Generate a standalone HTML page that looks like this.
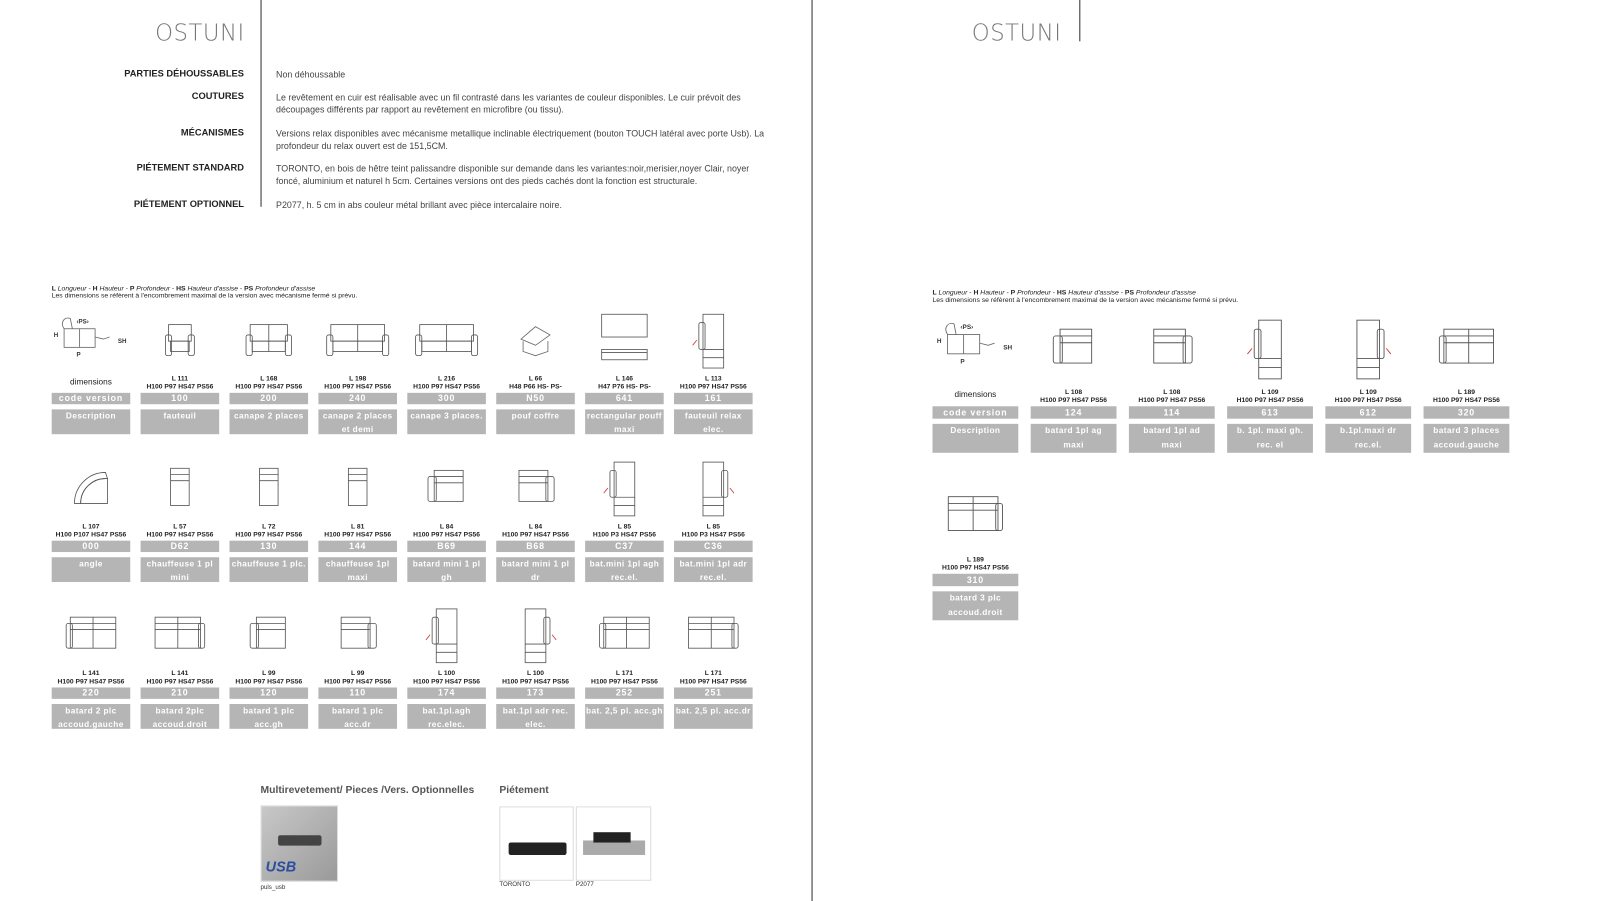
<!DOCTYPE html>
<html><head><meta charset="utf-8"><style>
*{margin:0;padding:0;box-sizing:border-box}
html,body{width:1621px;height:901px;overflow:hidden;background:#fff}
#w{position:absolute;left:0;top:0;width:1568px;height:872px;transform:scale(1.0338);transform-origin:0 0;font-family:"Liberation Sans",sans-serif;color:#333}
.a{position:absolute}
.title{font-size:22px;color:#777;letter-spacing:0.5px;font-family:"DejaVu Sans","Liberation Sans",sans-serif;font-weight:200}
.lab{position:absolute;font-size:9px;font-weight:bold;color:#222;white-space:nowrap;text-align:right;width:236px;left:0}
.txt{position:absolute;left:267px;font-size:8.6px;color:#444;line-height:12px;width:480px}
.vl{position:absolute;width:1px;background:#333}
.c{position:absolute;width:76px;text-align:center}
.c svg{position:absolute;left:0;top:0}
.L{position:absolute;left:-10px;right:-10px;font-size:6.5px;font-weight:bold;color:#222;white-space:nowrap}
.b{position:absolute;left:0;right:0;background:#b5b5b5;color:#fff;font-weight:bold;font-size:8.5px;letter-spacing:0.8px;overflow:hidden;white-space:nowrap}
.db{font-size:8px;letter-spacing:0.4px}
.c .l1{top:63px}.c .l2{top:71px}
.c .cb{top:80px;height:11px;line-height:11px}
.c .db{top:96px;height:24px;line-height:13px}
.r{width:83px}
.r .l1{top:71px}.r .l2{top:79px}
.r .cb{top:88px;height:12px;line-height:12px}
.r .db{top:105px;height:28px;line-height:14px}
.leg{position:absolute;font-size:6.6px;color:#222;line-height:6.8px;white-space:nowrap}
</style></head><body><div id="w">
<svg width="0" height="0" style="position:absolute"><defs>
<symbol id="arm" viewBox="0 0 76 58"><g fill="none" stroke="#555" stroke-width="0.8"><rect x="27" y="14" width="22" height="16"/><rect x="24" y="24" width="6" height="20" rx="2"/><rect x="46" y="24" width="6" height="20" rx="2"/><rect x="29" y="30" width="18" height="10"/></g></symbol>
<symbol id="s2" viewBox="0 0 76 58"><g fill="none" stroke="#555" stroke-width="0.8"><rect x="20" y="14" width="36" height="16"/><line x1="38" y1="14" x2="38" y2="40"/><rect x="16" y="24" width="6" height="20" rx="2"/><rect x="54" y="24" width="6" height="20" rx="2"/><rect x="22" y="30" width="32" height="10"/></g></symbol>
<symbol id="s3" viewBox="0 0 76 58"><g fill="none" stroke="#555" stroke-width="0.8"><rect x="12" y="14" width="52" height="16"/><line x1="38" y1="14" x2="38" y2="40"/><rect x="8" y="24" width="6" height="20" rx="2"/><rect x="62" y="24" width="6" height="20" rx="2"/><rect x="14" y="30" width="48" height="10"/></g></symbol>
<symbol id="ch" viewBox="0 0 76 58"><g fill="none" stroke="#555" stroke-width="0.8"><rect x="29" y="10" width="18" height="36"/><line x1="29" y1="16" x2="47" y2="16"/><line x1="29" y1="22" x2="47" y2="22"/></g></symbol>
<symbol id="bat1" viewBox="0 0 76 58"><g fill="none" stroke="#555" stroke-width="0.8"><rect x="26" y="12" width="28" height="30"/><line x1="26" y1="18" x2="54" y2="18"/><line x1="26" y1="24" x2="54" y2="24"/><rect x="20" y="18" width="8" height="24" rx="2"/></g></symbol>
<symbol id="bat2" viewBox="0 0 76 58"><g fill="none" stroke="#555" stroke-width="0.8"><rect x="18" y="12" width="44" height="30"/><line x1="40" y1="12" x2="40" y2="42"/><line x1="18" y1="18" x2="62" y2="18"/><line x1="18" y1="24" x2="62" y2="24"/><rect x="14" y="18" width="6" height="24" rx="2"/></g></symbol>
<symbol id="rel" viewBox="0 0 76 58"><g fill="none" stroke="#555" stroke-width="0.8"><rect x="28" y="4" width="20" height="52"/><rect x="24" y="12" width="6" height="26" rx="2"/><line x1="28" y1="38" x2="48" y2="38"/><line x1="28" y1="46" x2="48" y2="46"/></g><path d="M18 34l4-5" stroke="#c33" stroke-width="0.8"/></symbol>
</defs></svg>

<div class="vl" style="left:785px;top:0;height:872px"></div>
<div class="vl" style="left:252px;top:0;height:200px"></div>
<div class="vl" style="left:1044px;top:0;height:40px"></div>
<div class="a title" style="left:150px;top:20px">OSTUNI</div>
<div class="a title" style="left:940px;top:20px">OSTUNI</div>

<div class="lab" style="top:66px">PARTIES DÉHOUSSABLES</div>
<div class="lab" style="top:88px">COUTURES</div>
<div class="lab" style="top:123px">MÉCANISMES</div>
<div class="lab" style="top:157px">PIÉTEMENT STANDARD</div>
<div class="lab" style="top:192px">PIÉTEMENT OPTIONNEL</div>
<div class="txt" style="top:66px">Non déhoussable</div>
<div class="txt" style="top:88px">Le revêtement en cuir est réalisable avec un fil contrasté dans les variantes de couleur disponibles. Le cuir prévoit des découpages différents par rapport au revêtement en microfibre (ou tissu).</div>
<div class="txt" style="top:123px">Versions relax disponibles avec mécanisme metallique inclinable électriquement (bouton TOUCH latéral avec porte Usb). La profondeur du relax ouvert est de 151,5CM.</div>
<div class="txt" style="top:157px">TORONTO, en bois de hêtre teint palissandre disponible sur demande dans les variantes:noir,merisier,noyer Clair, noyer foncé, aluminium et naturel h 5cm. Certaines versions ont des pieds cachés dont la fonction est structurale.</div>
<div class="txt" style="top:192px">P2077, h. 5 cm in abs couleur métal brillant avec pièce intercalaire noire.</div>

<div class="leg" style="left:50px;top:277px"><b>L</b> <i>Longueur</i> - <b>H</b> <i>Hauteur</i> - <b>P</b> <i>Profondeur</i> - <b>HS</b> <i>Hauteur d'assise</i> - <b>PS</b> <i>Profondeur d'assise</i><br>Les dimensions se réfèrent à l'encombrement maximal de la version avec mécanisme fermé si prévu.</div>
<div class="leg" style="left:902px;top:281px"><b>L</b> <i>Longueur</i> - <b>H</b> <i>Hauteur</i> - <b>P</b> <i>Profondeur</i> - <b>HS</b> <i>Hauteur d'assise</i> - <b>PS</b> <i>Profondeur d'assise</i><br>Les dimensions se réfèrent à l'encombrement maximal de la version avec mécanisme fermé si prévu.</div>

<!-- left row 1 -->
<div class="c" style="left:50px;top:300px"><svg width="76" height="58" viewBox="0 0 76 58"><g fill="none" stroke="#666" stroke-width="0.8"><rect x="12" y="18" width="30" height="18"/><line x1="27" y1="18" x2="27" y2="36"/><path d="M12 18c-4-6 0-12 6-10l2 10"/><path d="M42 26l8 2 6-2"/></g><text x="24" y="13" font-size="6" font-weight="bold" fill="#333" font-family="Liberation Sans">‹PS›</text><text x="2" y="26" font-size="6" font-weight="bold" fill="#333" font-family="Liberation Sans">H</text><text x="64" y="32" font-size="6" font-weight="bold" fill="#333" font-family="Liberation Sans">SH</text><text x="24" y="45" font-size="6" font-weight="bold" fill="#333" font-family="Liberation Sans">P</text></svg><div class="L" style="top:65px;font-size:8px;font-weight:normal">dimensions</div><div class="b cb">code version</div><div class="b db">Description</div></div>
<div class="c" style="left:136px;top:300px"><svg width="76" height="58"><use href="#arm"/></svg><div class="L l1">L 111</div><div class="L l2">H100 P97 HS47 PS56</div><div class="b cb">100</div><div class="b db">fauteuil</div></div>
<div class="c" style="left:222px;top:300px"><svg width="76" height="58"><use href="#s2"/></svg><div class="L l1">L 168</div><div class="L l2">H100 P97 HS47 PS56</div><div class="b cb">200</div><div class="b db">canape 2 places</div></div>
<div class="c" style="left:308px;top:300px"><svg width="76" height="58"><use href="#s3"/></svg><div class="L l1">L 198</div><div class="L l2">H100 P97 HS47 PS56</div><div class="b cb">240</div><div class="b db">canape 2 places<br>et demi</div></div>
<div class="c" style="left:394px;top:300px"><svg width="76" height="58"><use href="#s3"/></svg><div class="L l1">L 216</div><div class="L l2">H100 P97 HS47 PS56</div><div class="b cb">300</div><div class="b db">canape 3 places.</div></div>
<div class="c" style="left:480px;top:300px"><svg width="76" height="58"><g fill="none" stroke="#666" stroke-width="0.8"><path d="M24 28l14-12 14 8-14 10z"/><path d="M26 30v10l12 4 12-4V30"/></g></svg><div class="L l1">L 66</div><div class="L l2">H48 P66 HS- PS-</div><div class="b cb">N50</div><div class="b db">pouf coffre</div></div>
<div class="c" style="left:566px;top:300px"><svg width="76" height="58"><g fill="none" stroke="#555" stroke-width="0.8"><rect x="16" y="4" width="44" height="22"/><rect x="16" y="38" width="44" height="10"/><line x1="16" y1="41" x2="60" y2="41"/></g></svg><div class="L l1">L 146</div><div class="L l2">H47 P76 HS- PS-</div><div class="b cb">641</div><div class="b db">rectangular pouff<br>maxi</div></div>
<div class="c" style="left:652px;top:300px"><svg width="76" height="58"><use href="#rel"/></svg><div class="L l1">L 113</div><div class="L l2">H100 P97 HS47 PS56</div><div class="b cb">161</div><div class="b db">fauteuil relax<br>elec.</div></div>

<!-- left row 2 -->
<div class="c" style="left:50px;top:443px"><svg width="76" height="58"><g fill="none" stroke="#555" stroke-width="0.8"><path d="M22 44A30 30 0 0 1 52 14l2 6A24 24 0 0 0 28 44z"/><path d="M28 44A24 24 0 0 1 54 20v24z"/></g></svg><div class="L l1">L 107</div><div class="L l2">H100 P107 HS47 PS56</div><div class="b cb">000</div><div class="b db">angle</div></div>
<div class="c" style="left:136px;top:443px"><svg width="76" height="58"><use href="#ch"/></svg><div class="L l1">L 57</div><div class="L l2">H100 P97 HS47 PS56</div><div class="b cb">D62</div><div class="b db">chauffeuse 1 pl<br>mini</div></div>
<div class="c" style="left:222px;top:443px"><svg width="76" height="58"><use href="#ch"/></svg><div class="L l1">L 72</div><div class="L l2">H100 P97 HS47 PS56</div><div class="b cb">130</div><div class="b db">chauffeuse 1 plc.</div></div>
<div class="c" style="left:308px;top:443px"><svg width="76" height="58"><use href="#ch"/></svg><div class="L l1">L 81</div><div class="L l2">H100 P97 HS47 PS56</div><div class="b cb">144</div><div class="b db">chauffeuse 1pl<br>maxi</div></div>
<div class="c" style="left:394px;top:443px"><svg width="76" height="58"><use href="#bat1"/></svg><div class="L l1">L 84</div><div class="L l2">H100 P97 HS47 PS56</div><div class="b cb">B69</div><div class="b db">batard mini 1 pl<br>gh</div></div>
<div class="c" style="left:480px;top:443px"><svg width="76" height="58"><use href="#bat1" transform="translate(76 0) scale(-1 1)"/></svg><div class="L l1">L 84</div><div class="L l2">H100 P97 HS47 PS56</div><div class="b cb">B68</div><div class="b db">batard mini 1 pl<br>dr</div></div>
<div class="c" style="left:566px;top:443px"><svg width="76" height="58"><use href="#rel"/></svg><div class="L l1">L 85</div><div class="L l2">H100 P3 HS47 PS56</div><div class="b cb">C37</div><div class="b db">bat.mini 1pl agh<br>rec.el.</div></div>
<div class="c" style="left:652px;top:443px"><svg width="76" height="58"><use href="#rel" transform="translate(76 0) scale(-1 1)"/></svg><div class="L l1">L 85</div><div class="L l2">H100 P3 HS47 PS56</div><div class="b cb">C36</div><div class="b db">bat.mini 1pl adr<br>rec.el.</div></div>

<!-- left row 3 -->
<div class="c" style="left:50px;top:585px"><svg width="76" height="58"><use href="#bat2"/></svg><div class="L l1">L 141</div><div class="L l2">H100 P97 HS47 PS56</div><div class="b cb">220</div><div class="b db">batard 2 plc<br>accoud.gauche</div></div>
<div class="c" style="left:136px;top:585px"><svg width="76" height="58"><use href="#bat2" transform="translate(76 0) scale(-1 1)"/></svg><div class="L l1">L 141</div><div class="L l2">H100 P97 HS47 PS56</div><div class="b cb">210</div><div class="b db">batard 2plc<br>accoud.droit</div></div>
<div class="c" style="left:222px;top:585px"><svg width="76" height="58"><use href="#bat1"/></svg><div class="L l1">L 99</div><div class="L l2">H100 P97 HS47 PS56</div><div class="b cb">120</div><div class="b db">batard 1 plc<br>acc.gh</div></div>
<div class="c" style="left:308px;top:585px"><svg width="76" height="58"><use href="#bat1" transform="translate(76 0) scale(-1 1)"/></svg><div class="L l1">L 99</div><div class="L l2">H100 P97 HS47 PS56</div><div class="b cb">110</div><div class="b db">batard 1 plc<br>acc.dr</div></div>
<div class="c" style="left:394px;top:585px"><svg width="76" height="58"><use href="#rel"/></svg><div class="L l1">L 100</div><div class="L l2">H100 P97 HS47 PS56</div><div class="b cb">174</div><div class="b db">bat.1pl.agh<br>rec.elec.</div></div>
<div class="c" style="left:480px;top:585px"><svg width="76" height="58"><use href="#rel" transform="translate(76 0) scale(-1 1)"/></svg><div class="L l1">L 100</div><div class="L l2">H100 P97 HS47 PS56</div><div class="b cb">173</div><div class="b db">bat.1pl adr rec.<br>elec.</div></div>
<div class="c" style="left:566px;top:585px"><svg width="76" height="58"><use href="#bat2"/></svg><div class="L l1">L 171</div><div class="L l2">H100 P97 HS47 PS56</div><div class="b cb">252</div><div class="b db">bat. 2,5 pl. acc.gh</div></div>
<div class="c" style="left:652px;top:585px"><svg width="76" height="58"><use href="#bat2" transform="translate(76 0) scale(-1 1)"/></svg><div class="L l1">L 171</div><div class="L l2">H100 P97 HS47 PS56</div><div class="b cb">251</div><div class="b db">bat. 2,5 pl. acc.dr</div></div>

<!-- right page -->
<div class="c r" style="left:902px;top:305px"><svg width="83" height="60" viewBox="0 0 76 58"><g fill="none" stroke="#666" stroke-width="0.8"><rect x="12" y="18" width="30" height="18"/><line x1="27" y1="18" x2="27" y2="36"/><path d="M12 18c-4-6 0-12 6-10l2 10"/><path d="M42 26l8 2 6-2"/></g><text x="24" y="13" font-size="6" font-weight="bold" fill="#333" font-family="Liberation Sans">‹PS›</text><text x="2" y="26" font-size="6" font-weight="bold" fill="#333" font-family="Liberation Sans">H</text><text x="64" y="32" font-size="6" font-weight="bold" fill="#333" font-family="Liberation Sans">SH</text><text x="24" y="45" font-size="6" font-weight="bold" fill="#333" font-family="Liberation Sans">P</text></svg><div class="L" style="top:72px;font-size:8px;font-weight:normal">dimensions</div><div class="b cb">code version</div><div class="b db">Description</div></div>
<div class="c r" style="left:997px;top:305px"><svg width="83" height="64" viewBox="0 0 76 58"><use href="#bat1"/></svg><div class="L l1">L 108</div><div class="L l2">H100 P97 HS47 PS56</div><div class="b cb">124</div><div class="b db">batard 1pl ag<br>maxi</div></div>
<div class="c r" style="left:1092px;top:305px"><svg width="83" height="64" viewBox="0 0 76 58"><use href="#bat1" transform="translate(76 0) scale(-1 1)"/></svg><div class="L l1">L 108</div><div class="L l2">H100 P97 HS47 PS56</div><div class="b cb">114</div><div class="b db">batard 1pl ad<br>maxi</div></div>
<div class="c r" style="left:1187px;top:305px"><svg width="83" height="64" viewBox="0 0 76 58"><use href="#rel"/></svg><div class="L l1">L 109</div><div class="L l2">H100 P97 HS47 PS56</div><div class="b cb">613</div><div class="b db">b. 1pl. maxi gh.<br>rec. el</div></div>
<div class="c r" style="left:1282px;top:305px"><svg width="83" height="64" viewBox="0 0 76 58"><use href="#rel" transform="translate(76 0) scale(-1 1)"/></svg><div class="L l1">L 109</div><div class="L l2">H100 P97 HS47 PS56</div><div class="b cb">612</div><div class="b db">b.1pl.maxi dr<br>rec.el.</div></div>
<div class="c r" style="left:1377px;top:305px"><svg width="83" height="64" viewBox="0 0 76 58"><use href="#bat2"/></svg><div class="L l1">L 189</div><div class="L l2">H100 P97 HS47 PS56</div><div class="b cb">320</div><div class="b db">batard 3 places<br>accoud.gauche</div></div>
<div class="c r" style="left:902px;top:467px"><svg width="83" height="64" viewBox="0 0 76 58"><use href="#bat2" transform="translate(76 0) scale(-1 1)"/></svg><div class="L l1">L 189</div><div class="L l2">H100 P97 HS47 PS56</div><div class="b cb">310</div><div class="b db">batard 3 plc<br>accoud.droit</div></div>

<!-- bottom -->
<div class="a" style="left:252px;top:759px;font-size:10px;font-weight:bold;color:#555">Multirevetement/ Pieces /Vers. Optionnelles</div>
<div class="a" style="left:483px;top:759px;font-size:10px;font-weight:bold;color:#555">Piétement</div>
<div class="a" style="left:252px;top:779px;width:75px;height:74px;border:1px solid #ddd;background:linear-gradient(135deg,#c8c8c8,#9a9a9a)"><div class="a" style="left:16px;top:28px;width:42px;height:10px;background:#444;border-radius:2px"></div><div class="a" style="left:4px;top:50px;font:italic bold 14px 'Liberation Sans',sans-serif;color:#2a4ea0">USB</div></div>
<div class="a" style="left:252px;top:856px;font-size:6px;color:#333">puls_usb</div>
<div class="a" style="left:483px;top:780px;width:72px;height:72px;border:1px solid #ddd"><div class="a" style="left:8px;top:34px;width:56px;height:12px;background:#222;border-radius:2px"></div></div>
<div class="a" style="left:557px;top:780px;width:73px;height:72px;border:1px solid #ddd"><div class="a" style="left:6px;top:32px;width:60px;height:14px;background:#aaa"></div><div class="a" style="left:16px;top:24px;width:36px;height:10px;background:#222"></div></div>
<div class="a" style="left:483px;top:853px;font-size:6px;color:#333">TORONTO</div>
<div class="a" style="left:557px;top:853px;font-size:6px;color:#333">P2077</div>
</div></body></html>
